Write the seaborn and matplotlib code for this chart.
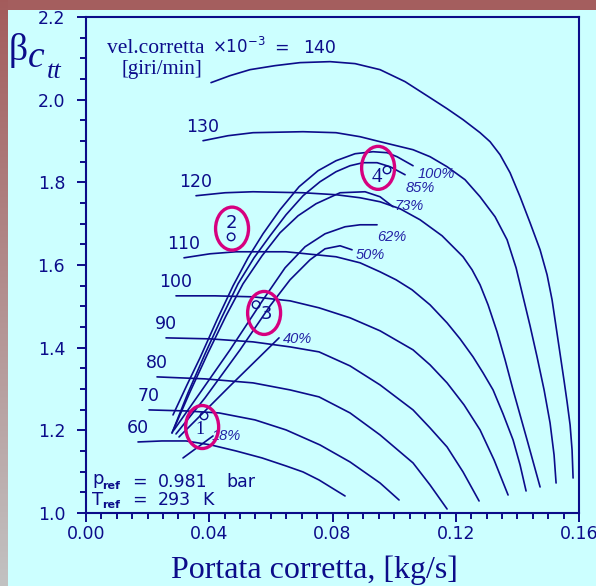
import numpy as np
import pandas as pd
import matplotlib
matplotlib.use("Agg")
import matplotlib.pyplot as plt
from matplotlib.patches import Ellipse
import seaborn as sns

W, H, DPI = 596, 586, 100
NAVY = "#0c0c8a"
LABEL_BLUE = "#2424a6"
MAGENTA = "#d6007f"
PANEL = "#ccffff"

# constant corrected-speed lines (rpm x 1e-3): corrected flow [kg/s], pressure ratio
speeds = [60, 70, 80, 90, 100, 110, 120, 130, 140]
n60_flow = [0.01688, 0.02467, 0.03246, 0.04058, 0.04869, 0.05713, 0.06492, 0.07044, 0.07563, 0.07985, 0.08407]
n60_beta = [1.1719, 1.1743, 1.1743, 1.1646, 1.1501, 1.1332, 1.1138, 1.0993, 1.0799, 1.0605, 1.0412]
n70_flow = [0.02045, 0.03214, 0.04317, 0.05486, 0.06492, 0.07596, 0.08569, 0.09543, 0.10160]
n70_beta = [1.2494, 1.2470, 1.2421, 1.2252, 1.2010, 1.1646, 1.1235, 1.0726, 1.0315]
n80_flow = [0.02305, 0.03863, 0.05421, 0.06622, 0.07563, 0.08569, 0.09543, 0.10614, 0.11166, 0.11718]
n80_beta = [1.3293, 1.3245, 1.3148, 1.2978, 1.2809, 1.2421, 1.1889, 1.1211, 1.0678, 1.0097]
n90_flow = [0.02597, 0.04025, 0.05421, 0.06622, 0.07563, 0.08569, 0.09543, 0.10614, 0.11166, 0.11718, 0.12237, 0.12757]
n90_beta = [1.4237, 1.4213, 1.4140, 1.4019, 1.3898, 1.3559, 1.3099, 1.2494, 1.2058, 1.1598, 1.0993, 1.0291]
n100_flow = [0.02921, 0.04187, 0.05421, 0.06622, 0.07563, 0.08569, 0.09543, 0.10614, 0.11166,
             0.11718, 0.12270, 0.12789, 0.13244, 0.13698]
n100_beta = [1.5254, 1.5254, 1.5230, 1.5133, 1.4964, 1.4722, 1.4408, 1.3947, 1.3584,
             1.3148, 1.2615, 1.2010, 1.1283, 1.0436]
n110_flow = [0.03181, 0.04025, 0.04869, 0.06492, 0.08115, 0.08894, 0.09543, 0.10063, 0.10582, 0.11166,
             0.11718, 0.12140, 0.12562, 0.12887, 0.13211, 0.13536, 0.13860, 0.14088, 0.14282]
n110_beta = [1.6174, 1.6271, 1.6320, 1.6320, 1.6199, 1.6053, 1.5835, 1.5642, 1.5400, 1.5036,
             1.4600, 1.4213, 1.3777, 1.3390, 1.2978, 1.2397, 1.1768, 1.1162, 1.0533]
n120_flow = [0.03571, 0.04512, 0.05421, 0.07044, 0.08115, 0.08894, 0.09543, 0.10192, 0.10842,
             0.11556, 0.12237, 0.12530, 0.12789, 0.13049, 0.13341, 0.13601, 0.13860, 0.14315, 0.14737]
n120_beta = [1.7676, 1.7748, 1.7772, 1.7748, 1.7700, 1.7627, 1.7530, 1.7361, 1.7094,
             1.6707, 1.6199, 1.5884, 1.5521, 1.5036, 1.4383, 1.3705, 1.2978, 1.1768, 1.0630]
n130_flow = [0.03798, 0.04609, 0.05421, 0.07044, 0.08115, 0.08894, 0.09543, 0.10614, 0.11166, 0.11718,
             0.12302, 0.12789, 0.13276, 0.13666, 0.13958, 0.14185, 0.14412, 0.14639, 0.14867,
             0.15061, 0.15191, 0.15256]
n130_beta = [1.9007, 1.9128, 1.9201, 1.9225, 1.9201, 1.9104, 1.8983, 1.8789, 1.8620, 1.8378,
             1.8063, 1.7651, 1.7167, 1.6610, 1.5932, 1.5230, 1.4528, 1.3777, 1.2978,
             1.2179, 1.1404, 1.0726]
n140_flow = [0.04058, 0.04674, 0.05323, 0.06135, 0.06946, 0.07920, 0.08732, 0.09543, 0.10355,
             0.11166, 0.11718, 0.12237, 0.12789, 0.13114, 0.13438, 0.13763, 0.14088, 0.14412,
             0.14737, 0.14964, 0.15126, 0.15256, 0.15386, 0.15516, 0.15613, 0.15711, 0.15775, 0.15808]
n140_beta = [2.0412, 2.0581, 2.0726, 2.0823, 2.0896, 2.0920, 2.0872, 2.0726, 2.0436,
             2.0048, 1.9782, 1.9516, 1.9201, 1.8983, 1.8668, 1.8232, 1.7651, 1.7022,
             1.6368, 1.5763, 1.5157, 1.4504, 1.3850, 1.3196, 1.2688, 1.2131, 1.1525, 1.0847]

speed_flow = [n60_flow, n70_flow, n80_flow, n90_flow, n100_flow,
              n110_flow, n120_flow, n130_flow, n140_flow]
speed_beta = [n60_beta, n70_beta, n80_beta, n90_beta, n100_beta,
              n110_beta, n120_beta, n130_beta, n140_beta]

# throttle-opening lines
openings = ["100%", "85%", "73%", "62%", "50%", "40%", "18%"]
v100_flow = [0.02824, 0.03278, 0.03700, 0.04252, 0.04772, 0.05259, 0.05745, 0.06297,
             0.06914, 0.07531, 0.08115, 0.08732, 0.09316, 0.09770, 0.10095, 0.10614]
v100_beta = [1.2373, 1.3099, 1.3753, 1.4673, 1.5496, 1.6174, 1.6755, 1.7337,
             1.7893, 1.8281, 1.8523, 1.8692, 1.8741, 1.8717, 1.8620, 1.8402]
v85_flow = [0.02792, 0.03311, 0.03863, 0.04415, 0.04934, 0.05453, 0.05973, 0.06492,
            0.07044, 0.07596, 0.08115, 0.08569, 0.08991, 0.09446, 0.09868, 0.10355]
v85_beta = [1.1937, 1.2906, 1.3850, 1.4746, 1.5545, 1.6174, 1.6707, 1.7215,
            1.7676, 1.8015, 1.8257, 1.8402, 1.8475, 1.8475, 1.8378, 1.8184]
v73_flow = [0.02792, 0.03376, 0.03960, 0.04544, 0.05096, 0.05713, 0.06297, 0.06882,
            0.07466, 0.08245, 0.09056, 0.09543, 0.09965]
v73_beta = [1.1937, 1.2930, 1.3874, 1.4770, 1.5545, 1.6223, 1.6780, 1.7191,
            1.7482, 1.7748, 1.7772, 1.7651, 1.7409]
v62_flow = [0.02856, 0.03700, 0.04674, 0.05745, 0.06460, 0.07109, 0.07758, 0.08407, 0.08894, 0.09446]
v62_beta = [1.2010, 1.2906, 1.3947, 1.5157, 1.5932, 1.6441, 1.6755, 1.6925, 1.6973, 1.6973]
v50_flow = [0.02921, 0.03863, 0.04999, 0.05973, 0.06622, 0.07271, 0.07758, 0.08245, 0.08634]
v50_beta = [1.1913, 1.2785, 1.3947, 1.5012, 1.5642, 1.6126, 1.6392, 1.6465, 1.6368]
v40_flow = [0.03019, 0.04642, 0.06265]
v40_beta = [1.1840, 1.3051, 1.4237]
v18_flow = [0.03149, 0.04122]
v18_beta = [1.1332, 1.1864]

open_flow = [v100_flow, v85_flow, v73_flow, v62_flow, v50_flow, v40_flow, v18_flow]
open_beta = [v100_beta, v85_beta, v73_beta, v62_beta, v50_beta, v40_beta, v18_beta]
open_label_flow = [0.1136, 0.1084, 0.1048, 0.0993, 0.0922, 0.0688, 0.0454]
open_label_beta = [1.821, 1.787, 1.743, 1.668, 1.625, 1.421, 1.186]

# measured operating points
point_ids = ["1", "2", "3", "4"]
point_flow = [0.0383, 0.0471, 0.0552, 0.0977]
point_beta = [1.235, 1.668, 1.504, 1.830]
tag_flow = [0.0370, 0.0471, 0.0587, 0.0944]
tag_beta = [1.203, 1.702, 1.482, 1.811]
ring_flow = [0.0377, 0.0474, 0.0578, 0.0948]
ring_beta = [1.208, 1.688, 1.484, 1.835]

x_ticks = [0.00, 0.04, 0.08, 0.12, 0.16]
x_ticklabels = ["0.00", "0.04", "0.08", "0.12", "0.16"]
y_ticks = [1.0, 1.2, 1.4, 1.6, 1.8, 2.0, 2.2]
y_ticklabels = ["1.0", "1.2", "1.4", "1.6", "1.8", "2.0", "2.2"]

sns.set_theme(style="ticks")
plt.rcParams["font.family"] = ["DejaVu Sans"]
plt.rcParams["mathtext.fontset"] = "dejavusans"

fig = plt.figure(figsize=(W / DPI, H / DPI), dpi=DPI, facecolor=PANEL)


def fx(px):
    return px / W


def fy(py):
    return 1 - py / H


# frame around the panel
top_band = fig.add_axes([0, fy(10), 1, 10 / H])
top_band.set_axis_off()
top_band.add_patch(plt.Rectangle((0, 0), 1, 1, color="#a45e5e", transform=top_band.transAxes))
side = fig.add_axes([0, 0, 8 / W, 1])
side.set_axis_off()
grad = np.linspace(0, 1, 256)[:, None]
c_top = np.array([0.64, 0.36, 0.36])
c_bot = np.array([0.76, 0.76, 0.76])
side.imshow(c_top[None, None, :] * (1 - grad[:, :, None]) + c_bot[None, None, :] * grad[:, :, None],
            aspect="auto", extent=[0, 1, 0, 1], origin="upper")

ax = fig.add_axes([fx(86), fy(513), (579 - 86) / W, (513 - 17) / H])
ax.set_facecolor(PANEL)

rows = []
for s, xs, ys in zip(speeds, speed_flow, speed_beta):
    for i, (a, b) in enumerate(zip(xs, ys)):
        rows.append({"curve": f"n{s}", "order": i, "portata": a, "beta": b})
for lab, xs, ys in zip(openings, open_flow, open_beta):
    for i, (a, b) in enumerate(zip(xs, ys)):
        rows.append({"curve": f"v{lab}", "order": i, "portata": a, "beta": b})
df = pd.DataFrame(rows)

sns.lineplot(data=df, x="portata", y="beta", units="curve", estimator=None,
             sort=False, color=NAVY, lw=1.2, ax=ax, legend=False)

# speed labels at the left end of each line
for s, xs, ys in zip(speeds[:-1], speed_flow[:-1], speed_beta[:-1]):
    ax.text(xs[0], ys[0] + 0.034, str(s), ha="center", va="center",
            fontsize=12.5, color=NAVY)

for lab, lx, ly in zip(openings, open_label_flow, open_label_beta):
    ax.text(lx, ly, lab, ha="center", va="center", fontsize=10.5,
            style="italic", family="Liberation Sans", color=LABEL_BLUE)

ax.scatter(point_flow, point_beta, s=30, facecolors="none", edgecolors=NAVY,
           linewidths=1.0, zorder=4)
for pid, tx, ty in zip(point_ids, tag_flow, tag_beta):
    if pid in ("1", "4"):
        ax.text(tx, ty, pid, ha="center", va="center", fontsize=15 if pid == "4" else 13,
                family="Liberation Serif", color=NAVY)
    else:
        ax.text(tx, ty, pid, ha="center", va="center", fontsize=13, color=NAVY)
for rx, ry in zip(ring_flow, ring_beta):
    ax.add_patch(Ellipse((rx, ry), width=0.0107, height=0.104, fill=False,
                         edgecolor=MAGENTA, lw=2.4, zorder=5))

ax.set_xlim(0, 0.16)
ax.set_ylim(1.0, 2.2)
ax.set_xticks(x_ticks)
ax.set_xticklabels(x_ticklabels)
ax.set_yticks(y_ticks)
ax.set_yticklabels(y_ticklabels)
ax.set_xticks(np.arange(0, 0.1601, 0.005), minor=True)
ax.set_yticks(np.arange(1.0, 2.2001, 0.05), minor=True)
ax.tick_params(axis="both", which="major", length=6.5, width=1.4, color=NAVY,
               labelcolor=NAVY, labelsize=12.5, direction="out")
ax.tick_params(axis="both", which="minor", length=4.5, width=1.4, color=NAVY, direction="out")
ax.tick_params(axis="y", which="major", pad=8.5)
ax.tick_params(axis="x", which="major", pad=2)
for sp in ax.spines.values():
    sp.set_color(NAVY)
    sp.set_linewidth(1.5)
    sp.set_visible(True)
ax.set_xlabel("")
ax.set_ylabel("")

# header: speed line legend
fig.text(fx(107), fy(53), "vel.corretta", family="Liberation Serif", fontsize=15.5,
         color=NAVY, va="baseline", ha="left")
fig.text(fx(212), fy(53), r"$\times10^{-3}$", fontsize=12, color=NAVY, va="baseline", ha="left")
fig.text(fx(274), fy(53), "=", fontsize=12.5, color=NAVY, va="baseline", ha="left")
fig.text(fx(303), fy(53), "140", fontsize=12.5, color=NAVY, va="baseline", ha="left")
fig.text(fx(121), fy(74), "[giri/min]", family="Liberation Serif", fontsize=15,
         color=NAVY, va="baseline", ha="left")

# reference conditions
fig.text(fx(92), fy(484), "p", fontsize=13, color=NAVY, va="baseline", ha="left")
fig.text(fx(102), fy(489), "ref", fontsize=8, weight="bold", color=NAVY, va="baseline", ha="left")
fig.text(fx(132), fy(487), "=", fontsize=12.5, color=NAVY, va="baseline", ha="left")
fig.text(fx(158), fy(487), "0.981", fontsize=12.5, color=NAVY, va="baseline", ha="left")
fig.text(fx(226), fy(487), "bar", fontsize=12.5, color=NAVY, va="baseline", ha="left")
fig.text(fx(92), fy(505), "T", fontsize=13, color=NAVY, va="baseline", ha="left")
fig.text(fx(102), fy(508), "ref", fontsize=8, weight="bold", color=NAVY, va="baseline", ha="left")
fig.text(fx(132), fy(505), "=", fontsize=12.5, color=NAVY, va="baseline", ha="left")
fig.text(fx(158), fy(505), "293", fontsize=12.5, color=NAVY, va="baseline", ha="left")
fig.text(fx(202), fy(505), "K", fontsize=12.5, color=NAVY, va="baseline", ha="left")

# axis titles
fig.text(fx(314), fy(578), "Portata corretta, [kg/s]", family="Liberation Serif",
         fontsize=23, color=NAVY, ha="center", va="baseline")
fig.text(fx(9), fy(60), "β", family="Liberation Serif", fontsize=27, color=NAVY,
         ha="left", va="baseline")
fig.text(fx(28), fy(67), "c", family="Liberation Serif", style="italic", fontsize=27,
         color=NAVY, ha="left", va="baseline")
fig.text(fx(47), fy(78), "tt", family="Liberation Serif", style="italic", fontsize=19,
         color=NAVY, ha="left", va="baseline")

fig.savefig("out.png", dpi=DPI, facecolor=PANEL)
